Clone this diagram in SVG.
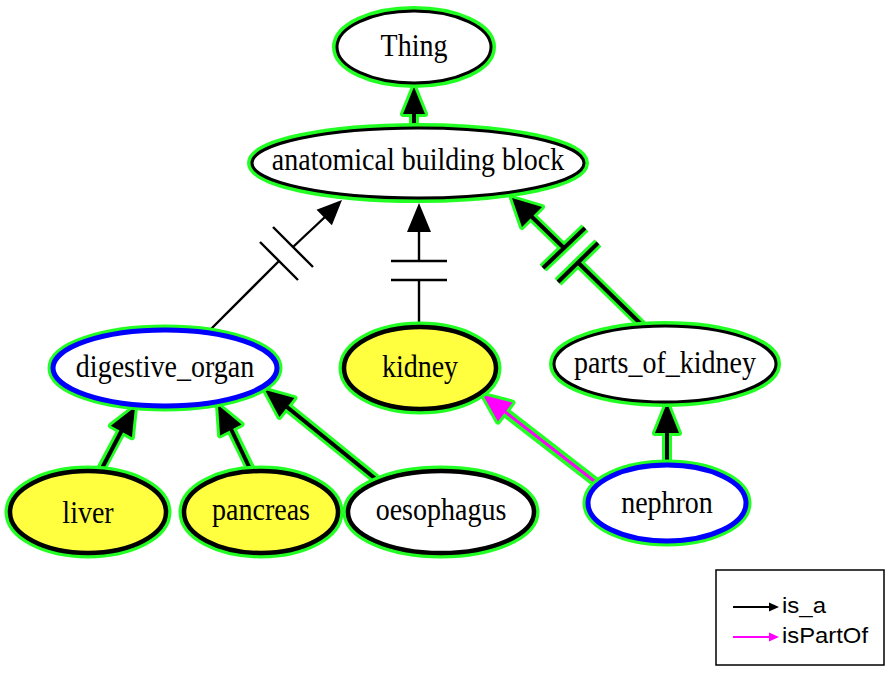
<svg xmlns="http://www.w3.org/2000/svg" width="892" height="673" viewBox="0 0 892 673">
<style>
.lbl{font-family:"Liberation Serif","Times New Roman",serif;font-size:28px;fill:#000;text-anchor:middle;dominant-baseline:central}
.leg{font-family:"Liberation Sans",Arial,sans-serif;font-size:22px;fill:#000}
.gO{fill:none;stroke:#22ff22;stroke-width:10}
.gT{fill:none;stroke:#22ff22;stroke-width:11}
.bk{stroke:#000;stroke-width:3}
.bkT{stroke:#000;stroke-width:4.5}
.bl{fill:#fff;stroke:#0000ff;stroke-width:5}
.white{fill:#fff}
.yel{fill:#ffff40}
.gl{fill:none;stroke:#22ff22;stroke-width:10;stroke-linecap:butt}
.gh{fill:#22ff22;stroke:#22ff22;stroke-width:6;stroke-linejoin:round}
.el{fill:none;stroke:#000;stroke-width:4}
.eh{fill:#000;stroke:none}
.tl{fill:none;stroke:#000;stroke-width:2.4}
</style>

<g id="connectors">
  <g id="e-abb-thing">
    <line class="gl" x1="414" y1="127" x2="414" y2="112"/>
    <polygon class="gh" points="414,87 403,114 425,114"/>
    <line class="el" x1="414" y1="128" x2="414" y2="112"/>
    <polygon class="eh" points="414,87 403,114 425,114"/>
  </g>
  <g id="e-dig-abb">
    <line class="tl" x1="207" y1="333" x2="279" y2="261"/>
    <line class="tl" x1="293" y1="247" x2="326" y2="216"/>
    <line class="tl" x1="260" y1="242" x2="298" y2="280"/>
    <line class="tl" x1="273" y1="227" x2="313" y2="267"/>
    <polygon class="eh" points="342,200 316.5,209.7 331.9,225.3"/>
  </g>
  <g id="e-kid-abb">
    <line class="tl" x1="419" y1="328" x2="419" y2="280"/>
    <line class="tl" x1="419" y1="261" x2="419" y2="230"/>
    <line class="tl" x1="391" y1="280" x2="447" y2="280"/>
    <line class="tl" x1="391" y1="261" x2="447" y2="261"/>
    <polygon class="eh" points="419,203 407,232 431,232"/>
  </g>
  <g id="e-pok-abb">
    <line class="gl" x1="642" y1="325" x2="578" y2="262.5"/>
    <line class="gl" x1="564" y1="248" x2="533" y2="218"/>
    <line class="gl" x1="585" y1="228" x2="543" y2="268" stroke-linecap="square"/>
    <line class="gl" x1="598" y1="243" x2="558" y2="282" stroke-linecap="square"/>
    <polygon class="gh" points="512,198 542,207 522,227"/>
    <line class="el" x1="643" y1="326" x2="578" y2="262.5"/>
    <line class="el" x1="564" y1="248" x2="531" y2="216"/>
    <line class="el" x1="585" y1="228" x2="543" y2="268"/>
    <line class="el" x1="598" y1="243" x2="558" y2="282"/>
    <polygon class="eh" points="512,198 542,207 522,227"/>
  </g>
  <g id="e-liv-dig">
    <line class="gl" x1="100" y1="471" x2="122" y2="430"/>
    <polygon class="gh" points="135,407 131.9,437.3 110.9,425.7"/>
    <line class="el" x1="100" y1="472" x2="122" y2="430"/>
    <polygon class="eh" points="135,407 131.9,437.3 110.9,425.7"/>
  </g>
  <g id="e-pan-dig">
    <line class="gl" x1="252" y1="472" x2="231" y2="429"/>
    <polygon class="gh" points="218,405 241.5,424.4 220.1,435.4"/>
    <line class="el" x1="252" y1="473" x2="231" y2="429"/>
    <polygon class="eh" points="218,405 241.5,424.4 220.1,435.4"/>
  </g>
  <g id="e-oes-dig">
    <line class="gl" x1="376" y1="479" x2="287" y2="407"/>
    <polygon class="gh" points="265,390 294.4,398.1 279.4,416.9"/>
    <line class="el" x1="377" y1="480" x2="287" y2="407"/>
    <polygon class="eh" points="265,390 294.4,398.1 279.4,416.9"/>
  </g>
  <g id="e-nep-kid">
    <line class="gl" x1="598" y1="484" x2="505" y2="412" stroke-width="9"/>
    <polygon class="gh" points="483,395 512.5,402.6 497.9,421.6"/>
    <line stroke="#ff00ff" stroke-width="3" x1="598" y1="484" x2="504" y2="411"/>
    <polygon fill="#ff00ff" points="483,395 512.5,402.6 497.9,421.6"/>
  </g>
  <g id="e-nep-pok">
    <line class="gl" x1="667" y1="463" x2="667" y2="432"/>
    <polygon class="gh" points="667,403 655,433 679,433"/>
    <line class="el" x1="667" y1="464" x2="667" y2="432"/>
    <polygon class="eh" points="667,403 655,433 679,433"/>
  </g>
</g>

<g id="node-thing">
  <ellipse class="gO" cx="414" cy="47" rx="77" ry="36"/>
  <ellipse class="white bk" cx="414" cy="47" rx="77" ry="36"/>
  <text class="lbl" transform="translate(414,46) scale(1,1.1)">Thing</text>
</g>
<g id="node-abb">
  <ellipse class="gO" cx="418" cy="163" rx="166" ry="35"/>
  <ellipse class="white bk" cx="418" cy="163" rx="166" ry="35"/>
  <text class="lbl" transform="translate(418,160) scale(1,1.1)">anatomical building block</text>
</g>
<g id="node-digestive">
  <ellipse class="gT" cx="165" cy="368" rx="112" ry="38" stroke-width="12"/>
  <ellipse class="bl" cx="165" cy="368" rx="112" ry="38"/>
  <text class="lbl" transform="translate(165,367) scale(1,1.1)">digestive_organ</text>
</g>
<g id="node-kidney">
  <ellipse class="gT" cx="420" cy="368" rx="76" ry="41"/>
  <ellipse class="yel bkT" cx="420" cy="368" rx="76" ry="41"/>
  <text class="lbl" transform="translate(420,367) scale(1,1.1)">kidney</text>
</g>
<g id="node-pok">
  <ellipse class="gO" cx="665" cy="364" rx="111" ry="38"/>
  <ellipse class="white bk" cx="665" cy="364" rx="111" ry="38"/>
  <text class="lbl" transform="translate(665,363) scale(1,1.1)">parts_of_kidney</text>
</g>
<g id="node-liver">
  <ellipse class="gT" cx="88" cy="512" rx="78" ry="41"/>
  <ellipse class="yel bkT" cx="88" cy="512" rx="78" ry="41"/>
  <text class="lbl" transform="translate(88,513) scale(1,1.1)">liver</text>
</g>
<g id="node-pancreas">
  <ellipse class="gT" cx="261" cy="512" rx="77" ry="41"/>
  <ellipse class="yel bkT" cx="261" cy="512" rx="77" ry="41"/>
  <text class="lbl" transform="translate(261,510) scale(1,1.1)">pancreas</text>
</g>
<g id="node-oesophagus">
  <ellipse class="gT" cx="441" cy="512" rx="93" ry="41"/>
  <ellipse class="white bkT" cx="441" cy="512" rx="93" ry="41"/>
  <text class="lbl" transform="translate(441,510) scale(1,1.1)">oesophagus</text>
</g>
<g id="node-nephron">
  <ellipse class="gT" cx="667" cy="503" rx="79" ry="38" stroke-width="12"/>
  <ellipse class="bl" cx="667" cy="503" rx="79" ry="38"/>
  <text class="lbl" transform="translate(667,503) scale(1,1.1)">nephron</text>
</g>

<g id="legend">
  <rect x="716" y="570" width="168" height="95" fill="#fff" stroke="#000" stroke-width="1.5"/>
  <line x1="733" y1="607" x2="771" y2="607" stroke="#000" stroke-width="2"/>
  <polygon points="779,607 769,602.5 769,611.5" fill="#000"/>
  <text class="leg" x="782" y="613" textLength="44" lengthAdjust="spacingAndGlyphs">is_a</text>
  <line x1="733" y1="637" x2="771" y2="637" stroke="#ff00ff" stroke-width="2"/>
  <polygon points="779,637 769,632.5 769,641.5" fill="#ff00ff"/>
  <text class="leg" x="782" y="643" textLength="86" lengthAdjust="spacingAndGlyphs">isPartOf</text>
</g>
</svg>
